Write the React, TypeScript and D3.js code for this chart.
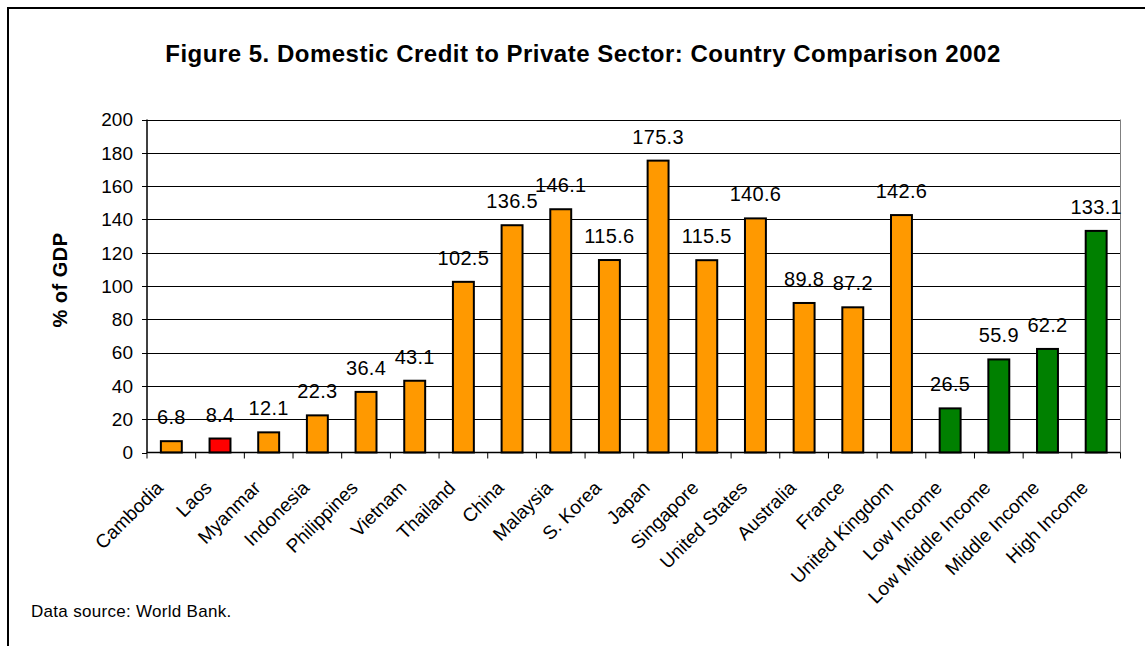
import React from "react";
import * as d3 from "d3";

const categories = [
  "Cambodia", "Laos", "Myanmar", "Indonesia", "Philippines", "Vietnam", "Thailand",
  "China", "Malaysia", "S. Korea", "Japan", "Singapore", "United States", "Australia",
  "France", "United Kingdom", "Low Income", "Low Middle Income", "Middle Income", "High Income",
];
const values = [
  6.8, 8.4, 12.1, 22.3, 36.4, 43.1, 102.5, 136.5, 146.1, 115.6, 175.3, 115.5, 140.6, 89.8,
  87.2, 142.6, 26.5, 55.9, 62.2, 133.1,
];
const groups = [
  "asia", "laos", "asia", "asia", "asia", "asia", "asia", "asia", "asia", "asia", "asia",
  "asia", "asia", "asia", "asia", "asia", "income", "income", "income", "income",
];
const yTicks = [0, 20, 40, 60, 80, 100, 120, 140, 160, 180, 200];
const title = "Figure 5. Domestic Credit to Private Sector: Country Comparison 2002";
const yTitle = "% of GDP";
const source = "Data source: World Bank.";

const colorOf: Record<string, string> = { asia: "#FF9900", laos: "#FF0000", income: "#008000" };

export default function App() {
  const W = 1145, H = 646;
  const left = 147, right = 1120.5, top = 119.5, bottom = 452.5;
  const x = d3.scaleBand<string>().domain(categories).range([left, right]).padding(0);
  const y = d3.scaleLinear().domain([0, 200]).range([bottom, top]);
  const bw = x.bandwidth() * 0.43;
  const font = "Arial, 'Liberation Sans', sans-serif";

  return (
    <svg width={W} height={H} style={{ position: "absolute", left: 0, top: 0, background: "#fff" }} fontFamily={font}>
      <rect x={8} y={8} width={W + 20} height={H + 20} fill="#fff" stroke="#000" strokeWidth={2} />
      <text x={583} y={62} textAnchor="middle" fontWeight="bold" fontSize={24} letterSpacing={0.5}>{title}</text>

      {/* gridlines */}
      {yTicks.filter(t => t > 0).map(t => (
        <line key={t} x1={left} x2={right} y1={Math.round(y(t)) + 0.5} y2={Math.round(y(t)) + 0.5} stroke="#000" strokeWidth={1} />
      ))}
      <line x1={right} x2={right} y1={top} y2={bottom} stroke="#808080" strokeWidth={1} />

      {/* y axis */}
      <line x1={left} x2={left} y1={top} y2={bottom + 0.5} stroke="#000" strokeWidth={1.5} />
      {yTicks.map(t => (
        <g key={t}>
          <line x1={left - 5} x2={left} y1={Math.round(y(t)) + 0.5} y2={Math.round(y(t)) + 0.5} stroke="#000" strokeWidth={1} />
          <text x={133} y={y(t) + 6.8} textAnchor="end" fontSize={19}>{t}</text>
        </g>
      ))}
      <text transform={`translate(67,280) rotate(-90)`} textAnchor="middle" fontWeight="bold" fontSize={20} letterSpacing={0.5}>{yTitle}</text>

      {/* bars */}
      {categories.map((c, i) => {
        const cx = (x(c) as number) + x.bandwidth() / 2;
        return (
          <g key={c}>
            <rect x={cx - bw / 2} y={y(values[i])} width={bw} height={bottom - y(values[i])} fill={colorOf[groups[i]]} stroke="#000" strokeWidth={2} />
            <text x={cx} y={y(values[i]) - 17} textAnchor="middle" fontSize={20} letterSpacing={0.3}>{values[i]}</text>
          </g>
        );
      })}

      {/* x axis */}
      <line x1={left} x2={right} y1={bottom} y2={bottom} stroke="#000" strokeWidth={1.5} />
      {categories.map(c => (
        <line key={c} x1={x(c) as number} x2={x(c) as number} y1={bottom} y2={bottom + 6} stroke="#000" strokeWidth={1} />
      ))}
      <line x1={right} x2={right} y1={bottom} y2={bottom + 6} stroke="#000" strokeWidth={1} />
      {categories.map(c => {
        const cx = (x(c) as number) + x.bandwidth() / 2;
        return (
          <text key={c} transform={`translate(${cx - 7},489) rotate(-45)`} textAnchor="end" fontSize={19}>{c}</text>
        );
      })}

      <text x={31} y={617} fontSize={17} letterSpacing={0.3}>{source}</text>
    </svg>
  );
}
